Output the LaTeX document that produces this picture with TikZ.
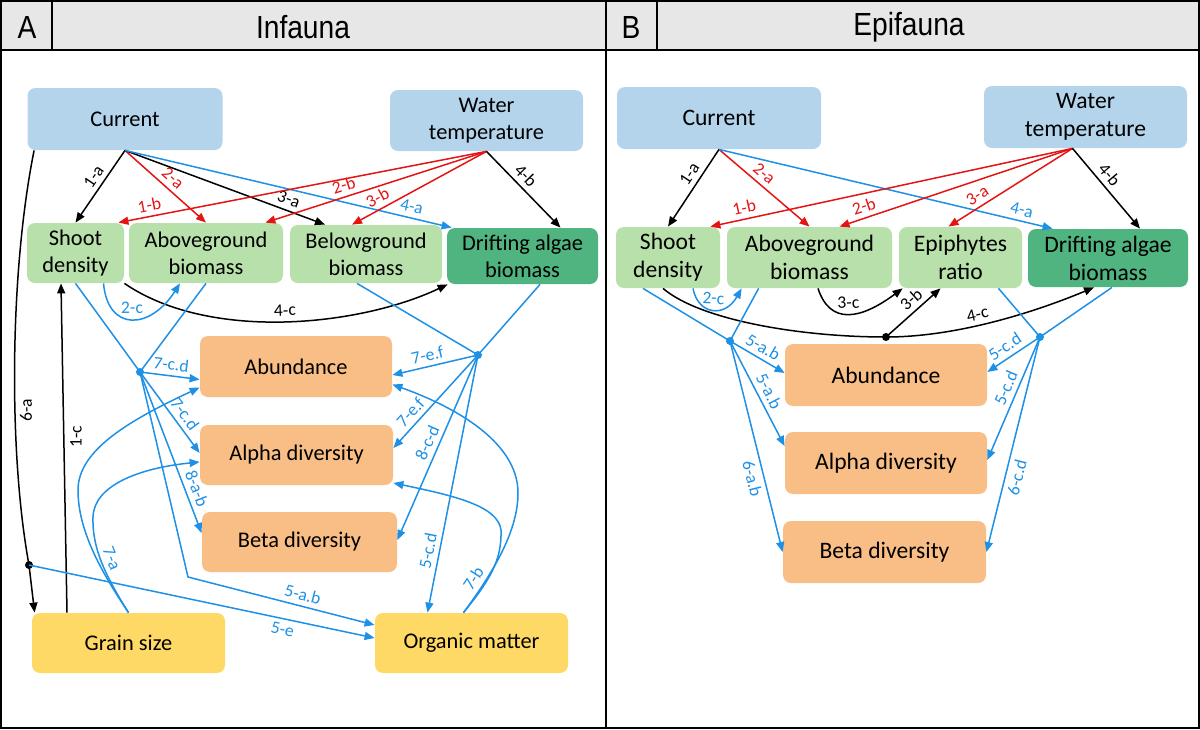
\documentclass[tikz,border=0pt]{standalone}
\usepackage{fontspec}
\setmainfont{Carlito}
\newfontfamily\headfont[FakeStretch=0.88]{Liberation Sans}
\usetikzlibrary{arrows.meta,calc}
\definecolor{envblue}{RGB}{180,212,236}
\definecolor{plantgreen}{RGB}{184,224,170}
\definecolor{algaegreen}{RGB}{80,180,128}
\definecolor{faunaorange}{RGB}{248,190,134}
\definecolor{sedyellow}{RGB}{255,217,102}
\definecolor{arrblue}{RGB}{30,144,230}
\definecolor{arrred}{RGB}{228,20,20}
\definecolor{headgray}{RGB}{231,231,231}
\begin{document}
\begin{tikzpicture}[x=0.5pt,y=-0.5pt,
  box/.style={rounded corners=4pt,align=center,inner sep=1pt,font=\fontsize{11.2}{13.5}\selectfont},
  big/.style={font=\fontsize{11.8}{14}\selectfont},
  env/.style={box,fill=envblue},
  plant/.style={box,fill=plantgreen},
  algae/.style={box,fill=algaegreen},
  fauna/.style={box,fill=faunaorange},
  sed/.style={box,fill=sedyellow},
  a/.style={line width=0.75pt,-{Triangle[length=5pt,width=4pt]}},
  bk/.style={a,color=black},
  rd/.style={a,color=arrred},
  bl/.style={a,color=arrblue},
  bn/.style={line width=0.75pt,color=arrblue},
  lb/.style={font=\fontsize{8.8}{9.5}\selectfont,inner sep=1.5pt},
  el/.style={lb,sloped,inner sep=2.3pt},
  hd/.style={font=\headfont\fontsize{16}{18}\selectfont}]
\useasboundingbox (0,0) rectangle (1200,729);
% frame and header
\fill[headgray] (0,0) rectangle (1200,50);
\draw[line width=1.2pt] (1,1) rectangle (1199,728);
\draw[line width=1pt] (0,50) -- (1200,50);
\draw[line width=1pt] (606,0) -- (606,729);
\draw[line width=1pt] (52,0) -- (52,50);
\draw[line width=1pt] (657,0) -- (657,50);
\node[hd] (ta) at (27,27) {A};
\node[hd] (ti) at (303,27) {Infauna};
\node[hd] (tb) at (631,27) {B};
\node[hd] (te) at (909,27) {Epifauna};

% ---- A: infauna ----
\node[env,minimum width=97.5pt,minimum height=31pt] (icur) at (125,119) {Current};
\node[env,minimum width=96.5pt,minimum height=30.5pt] (iwat) at (486.5,120.5) {Water\\temperature};
\node[plant,minimum width=48.5pt,minimum height=30pt] (isd) at (75.5,253) {Shoot\\density};
\node[plant,minimum width=77pt,minimum height=30pt] (iag) at (206,253) {Aboveground\\biomass};
\node[plant,minimum width=76pt,minimum height=29pt] (ibg) at (366,254) {Belowground\\biomass};
\node[algae,minimum width=75.5pt,minimum height=28pt] (ida) at (522.5,256) {Drifting algae\\biomass};
\node[fauna,minimum width=96pt,minimum height=30.5pt] (iab) at (296,366.5) {Abundance};
\node[fauna,minimum width=96.5pt,minimum height=30pt] (ial) at (296.5,455) {Alpha diversity};
\node[fauna,minimum width=97.5pt,minimum height=30pt] (ibe) at (299.5,542) {Beta diversity};
\node[sed,minimum width=96.5pt,minimum height=30pt] (igs) at (128.5,643) {Grain size};
\node[sed,minimum width=96.5pt,minimum height=30pt] (iom) at (471.5,643) {Organic matter};
\coordinate (ildot) at (140,372);
\coordinate (irdot) at (478,355);
\coordinate (ibd) at (29,565);
\coordinate (icrn) at (188,577);
\coordinate (iwa) at (78,490);
\coordinate (iwb) at (93,517);
\coordinate (iwc) at (518,493);
\coordinate (iwd) at (501,530);

\draw[bk] (icur.south) -- node[el,pos=.45,above]{1-a} (isd.north);
\draw[rd] (icur.south) -- node[el,pos=.5,above]{2-a} (iag.north);
\draw[bk] (icur.south) -- node[el,pos=.8,above]{3-a} ([xshift=-20.5pt]ibg.north);
\draw[bl] (icur.south) -- node[el,pos=.87,above]{4-a} ([xshift=2.5pt]ida.north west);
\draw[rd] (iwat.south) -- node[el,pos=.91,above]{1-b} ([xshift=-3pt]isd.north east);
\draw[rd] (iwat.south) -- node[el,pos=.63,above]{2-b} ([xshift=-9pt]iag.north east);
\draw[rd] (iwat.south) -- node[el,pos=.77,above]{3-b} ([xshift=-7pt]ibg.north);
\draw[bk] (iwat.south) -- node[el,pos=.42,above]{4-b} ([xshift=19pt]ida.north);
\draw[bk] (isd.south east) .. controls (210,342) and (360,326) .. node[el,pos=.5,above]{4-c} ([xshift=.5pt]ida.south west);
\draw[bl] ([xshift=14pt]isd.south) .. controls (108,332) and (150,330) .. node[el,pos=.5,above]{2-c} ([xshift=-13pt]iag.south);
\draw[bk] ([xshift=-30.75pt]igs.north) -- ([xshift=-7.25pt]isd.south);
\node[lb,rotate=90] (l1c) at (76,437) {1-c};
\draw[bk] ([xshift=3.5pt]icur.south west) .. controls (10,270) and (8,450) .. (ibd) -- ([xshift=1.5pt]igs.north west);
\node[lb,rotate=90] (l6a) at (26,410) {6-a};
\fill (ibd) circle (2pt);
% blue paths
\draw[bn] (isd.south) -- (ildot);
\draw[bn] (iag.south) -- (ildot);
\draw[bn] ([xshift=-4.5pt]ibg.south) -- (irdot);
\draw[bn] ([xshift=8.75pt]ida.south) -- (irdot);
\draw[bl] (ildot) -- node[el,pos=.5,above]{7-c.d} ([yshift=-6.5pt]iab.west);
\draw[bl] (ildot) -- node[el,pos=.6,above]{7-c.d} ([yshift=1pt]ial.west);
\draw[bl] (ildot) -- node[el,pos=.75,above]{8-a-b} ([yshift=4.5pt]ibe.west);
\draw[bl] (ildot) -- (icrn) -- node[el,pos=.6,above]{5-a.b} ([yshift=9pt]iom.west);
\draw[bl] (ibd) -- node[el,pos=.74,below]{5-e} ([yshift=2.5pt]iom.west);
\draw[bl] (irdot) -- node[el,pos=.56,above]{7-e.f} ([yshift=-4.25pt]iab.east);
\draw[bl] (irdot) -- node[el,pos=.7,above]{7-e.f} ([yshift=3.5pt]ial.east);
\draw[bl] (irdot) -- node[el,pos=.5,above]{8-c-d} ([yshift=1pt]ibe.east);
\draw[bl] (irdot) -- node[el,pos=.77,above]{5-c.d} ([xshift=-22pt]iom.north);
\draw[bl] (igs.north) .. controls (100,570) and (78,530) .. (iwa) .. controls (78,450) and (130,420) .. ([yshift=-10.5pt]iab.west);
\draw[bl] (igs.north) .. controls (105,575) and (92,548) .. node[el,pos=.5,above]{7-a} (iwb) .. controls (94,485) and (140,468) .. ([yshift=-3.5pt]ial.west);
\draw[bl] ([xshift=-4pt]iom.north) .. controls (495,570) and (518,530) .. node[el,pos=.22,above]{7-b} (iwc) .. controls (518,440) and (450,405) .. ([yshift=-9pt]iab.east);
\draw[bl] ([xshift=-4pt]iom.north) .. controls (490,580) and (502,560) .. (iwd) .. controls (498,505) and (450,495) .. ([yshift=-14pt]ial.east);
\fill[arrblue] (ildot) circle (2pt);
\fill[arrblue] (irdot) circle (2pt);

% ---- B: epifauna ----
\node[env,big,minimum width=102pt,minimum height=31pt] (ecur) at (719,118) {Current};
\node[env,big,minimum width=101.5pt,minimum height=31pt] (ewat) at (1085.5,117) {Water\\temperature};
\node[plant,big,minimum width=52pt,minimum height=30.5pt] (esd) at (668,257.5) {Shoot\\density};
\node[plant,big,minimum width=82.5pt,minimum height=30.5pt] (eag) at (809.5,257.5) {Aboveground\\biomass};
\node[plant,big,minimum width=61.5pt,minimum height=30.5pt] (eep) at (960.5,257.5) {Epiphytes\\ratio};
\node[algae,big,minimum width=80pt,minimum height=29pt] (eda) at (1108,258) {Drifting algae\\biomass};
\node[fauna,big,minimum width=101pt,minimum height=31pt] (eab) at (886,375) {Abundance};
\node[fauna,big,minimum width=101pt,minimum height=31pt] (eal) at (886,463) {Alpha diversity};
\node[fauna,big,minimum width=101.5pt,minimum height=31pt] (ebe) at (884.5,552) {Beta diversity};
\coordinate (eld) at (730,341);
\coordinate (erd) at (1040,337);
\coordinate (ebd) at (886,337);
\coordinate (ewt) at ([xshift=-6.5pt]ewat.south);

\draw[bk] (ecur.south) -- node[el,pos=.4,above]{1-a} (esd.north);
\draw[rd] (ecur.south) -- node[el,pos=.42,above]{2-a} (eag.north);
\draw[bl] (ecur.south) -- node[el,pos=.9,above]{4-a} ([xshift=12.5pt]eda.north west);
\draw[rd] (ewt) -- node[el,pos=.9,above]{1-b} ([xshift=-5pt]esd.north east);
\draw[rd] (ewt) -- node[el,pos=.88,above]{2-b} ([xshift=15pt]eag.north);
\draw[rd] (ewt) -- node[el,pos=.72,above]{3-a} ([xshift=-6pt]eep.north);
\draw[bk] (ewt) -- node[el,pos=.42,above]{4-b} ([xshift=16pt]eda.north);
\draw[bl] ([xshift=12.5pt]esd.south) .. controls (698,315) and (725,318) .. node[el,pos=.5,above]{2-c} ([xshift=7.5pt]eag.south west);
\draw[bk] ([xshift=4.25pt]eag.south) .. controls (830,325) and (860,320) .. node[el,pos=.5,above]{3-c} ([xshift=2pt]eep.south west);
\draw[line width=0.75pt] ([xshift=-2.5pt]esd.south) .. controls (700,320) and (800,337) .. (ebd);
\draw[bk] (ebd) .. controls (960,337) and (1040,310) .. node[el,pos=.42,above]{4-c} ([xshift=-7pt]eda.south);
\draw[bk] (ebd) -- node[el,pos=.6,above]{3-b} ([xshift=-10pt]eep.south);
\fill (ebd) circle (2pt);
\draw[bn] ([xshift=-12.5pt]esd.south) -- (eld);
\draw[bn] ([xshift=16pt]eag.south west) -- (eld);
\draw[bn] ([xshift=19pt]eep.south) -- (erd);
\draw[bn] ([xshift=2pt]eda.south) -- (erd);
\draw[bl] (eld) -- node[el,pos=.5,above]{5-a.b} ([yshift=1pt]eab.west);
\draw[bl] (eld) -- node[el,pos=.53,above]{5-a.b} ([yshift=8.5pt]eal.west);
\draw[bl] (eld) -- node[el,pos=.64,below]{6-a.b} (ebe.west);
\draw[bl] (erd) -- node[el,pos=.55,above]{5-c.d} ([yshift=1.5pt]eab.east);
\draw[bl] (erd) -- node[el,pos=.45,above]{5-c.d} ([yshift=1.5pt]eal.east);
\draw[bl] (erd) -- node[el,pos=.64,below]{6-c.d} (ebe.east);
\fill[arrblue] (eld) circle (2pt);
\fill[arrblue] (erd) circle (2pt);
\end{tikzpicture}
\end{document}
